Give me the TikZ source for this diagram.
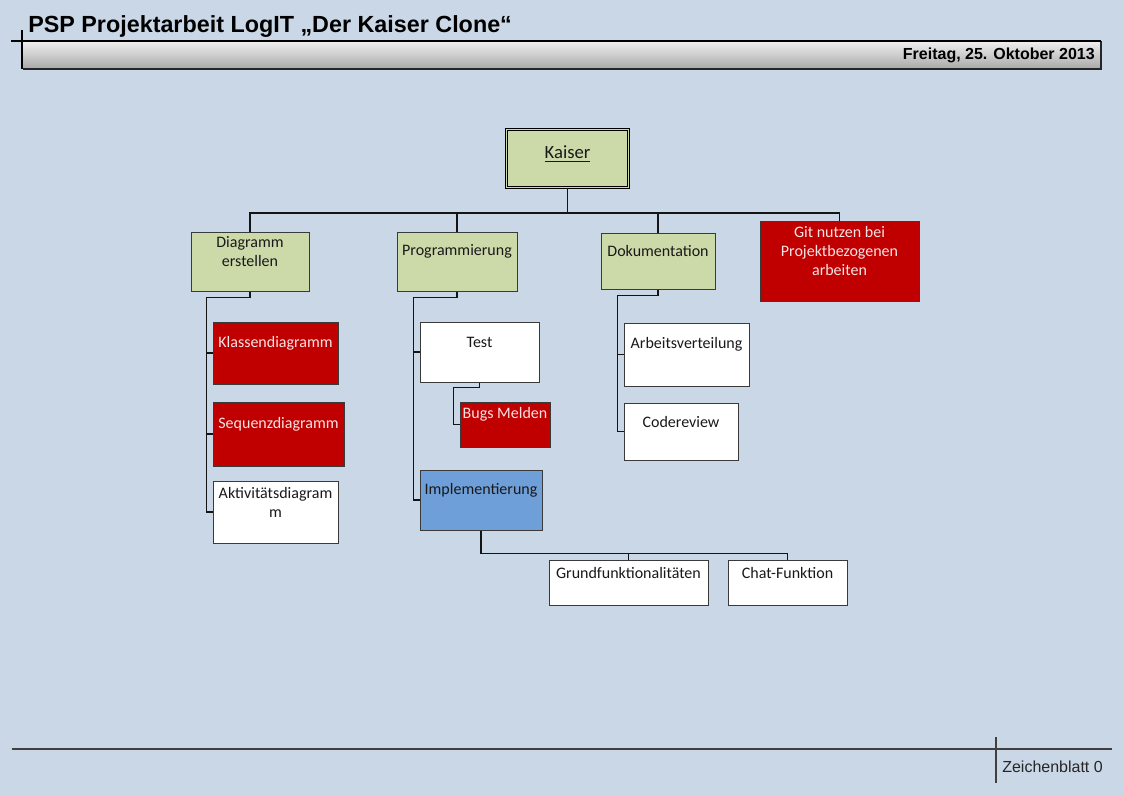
\documentclass[tikz,border=0pt]{standalone}
\usepackage{fontspec}
\setmainfont{Carlito}
\newfontfamily\arialf{Liberation Sans}
\usetikzlibrary{calc}
\definecolor{bg}{HTML}{C9D7E6}
\definecolor{grn}{HTML}{CCDAAA}
\definecolor{red1}{HTML}{C00000}
\definecolor{blu}{HTML}{6F9FD8}
\definecolor{edge}{HTML}{3A3A3A}
\definecolor{redtxt}{HTML}{F6E4E4}
\tikzset{
 box/.style={draw=edge, line width=0.75pt, inner sep=0pt},
 greenbox/.style={box, fill=grn},
 redbox/.style={box, fill=red1},
 whitebox/.style={box, fill=white},
 bluebox/.style={box, fill=blu},
 lbl/.style={font=\fontsize{12}{14.25}\selectfont, align=center, inner sep=0pt, yshift=7.5pt, text=black!90},
 redlbl/.style={lbl, text=redtxt},
 conn/.style={draw=black!92, line width=1.2pt},
 frameline/.style={draw=black!85, line width=0.9pt},
}
\newcommand\mkbox[8]{\node[#6, minimum width={(#4-#2)*0.75pt}, minimum height={(#5-#3)*0.75pt}, label={[#7]center:#8}] (#1) at ({(#2+#4)/2},{(#3+#5)/2}) {};}
\begin{document}
\begin{tikzpicture}[x=0.75pt,y=-0.75pt]
\fill[bg] (0,0) rectangle (1124,795);
\useasboundingbox (0,0) rectangle (1124,795);
% header
\shade[top color=gray!12, bottom color=gray!68] (23,41) rectangle (1101,69);
\draw[frameline] (23,69) -- (1101,69) -- (1101,41);
\draw[frameline, draw=black] (11,41) -- (1101,41);
\draw[frameline, draw=black] (22,30) -- (22,69);
\node[anchor=base west, inner sep=0pt, font=\arialf\bfseries\fontsize{17.5}{20}\selectfont] (title) at (28,33) {PSP Projektarbeit LogIT „Der Kaiser Clone“};
\node[anchor=base east, inner sep=0pt, font=\arialf\bfseries\fontsize{12}{14}\selectfont] (date) at (1095,60) {Freitag, 25. Oktober 2013};
% footer
\draw[frameline, draw=black!75] (12,749) -- (1112,749);
\draw[frameline, draw=black!75] (996,737) -- (996,783);
\node[anchor=base west, inner sep=0pt, font=\arialf\fontsize{12}{14}\selectfont, text=black!85] (sheet) at (1002,772) {Zeichenblatt 0};
% boxes
\node[draw=black, line width=0.75pt, double=grn, double distance=1.4pt, fill=grn, inner sep=0pt,
  minimum width={122*0.75pt}, minimum height={58*0.75pt},
  label={[font=\fontsize{14}{16}\selectfont, inner sep=0pt, yshift=3.5pt, text=black!90]center:\underline{Kaiser}}] (kaiser) at (567.5,158.5) {};
\mkbox{diag}{191}{232}{309}{291}{greenbox}{lbl}{Diagramm\\erstellen}
\mkbox{prog}{397}{232}{517}{291}{greenbox}{lbl}{Programmierung}
\mkbox{doku}{601}{233}{715}{289}{greenbox}{lbl}{Dokumentation}
\mkbox{git}{760}{221}{919}{301}{redbox}{redlbl}{Git nutzen bei\\Projektbezogenen\\arbeiten}
\mkbox{klass}{213}{322}{338}{384}{redbox}{redlbl}{Klassendiagramm}
\mkbox{seq}{213}{402}{344}{466}{redbox}{redlbl}{Sequenzdiagramm}
\mkbox{akt}{213}{481}{338}{543}{whitebox}{lbl}{Aktivitätsdiagram\\m}
\mkbox{test}{420}{322}{539}{382}{whitebox}{lbl}{Test}
\mkbox{bugs}{460}{402}{550}{447}{redbox}{redlbl}{Bugs Melden}
\mkbox{impl}{420}{470}{542}{530}{bluebox}{lbl}{Implementierung}
\mkbox{grund}{549}{560}{708}{605}{whitebox}{lbl}{Grundfunktionalitäten}
\mkbox{chat}{728}{560}{847}{605}{whitebox}{lbl}{Chat-Funktion}
\mkbox{arb}{624}{323}{749}{386}{whitebox}{lbl}{Arbeitsverteilung}
\mkbox{code}{624}{403}{738}{460}{whitebox}{lbl}{Codereview}
% connectors
\coordinate (bus) at (0,213);
\draw[conn] (kaiser.south) |- (diag.north |- bus) -- (diag.north);
\draw[conn] (kaiser.south) |- (git.north |- bus) -- (git.north);
\draw[conn] (prog.north |- bus) -- (prog.north);
\draw[conn] (doku.north |- bus) -- (doku.north);
\draw[conn] (diag.south) -- ++(0,6) -| ([xshift=-4.5pt]akt.west) -- (akt.west);
\draw[conn] ([xshift=-4.5pt]klass.west) -- (klass.west);
\draw[conn] ([xshift=-4.5pt]seq.west) -- (seq.west);
\draw[conn] (prog.south) -- ++(0,6) -| ([xshift=-4.5pt]impl.west) -- (impl.west);
\draw[conn] ([xshift=-4.5pt]test.west) -- (test.west);
\draw[conn] (test.south) -- ++(0,5) -| ([xshift=-4.5pt]bugs.west) -- (bugs.west);
\draw[conn] (impl.south) |- ([yshift=4.5pt]chat.north) -- (chat.north);
\draw[conn] ([yshift=4.5pt]grund.north) -- (grund.north);
\draw[conn] (doku.south) -- ++(0,6) -| ([xshift=-4.5pt]code.west) -- (code.west);
\draw[conn] ([xshift=-4.5pt]arb.west) -- (arb.west);
\end{tikzpicture}
\end{document}
